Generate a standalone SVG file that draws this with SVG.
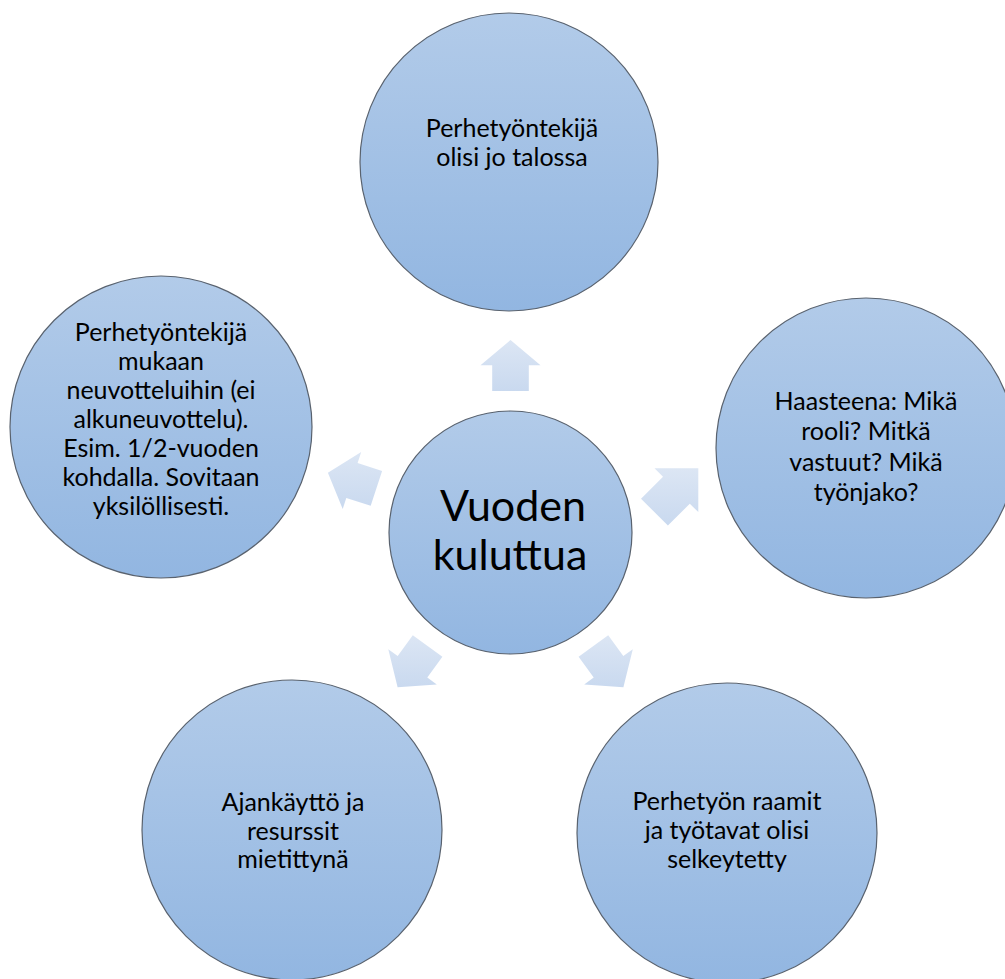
<svg xmlns="http://www.w3.org/2000/svg" width="1005" height="979" viewBox="0 0 1005 979">
<defs>
<linearGradient id="gCircle" x1="0" y1="0" x2="0" y2="1">
<stop offset="0" stop-color="#b2cbe9"/>
<stop offset="1" stop-color="#92b6e1"/>
</linearGradient>
<linearGradient id="gArrow" x1="0" y1="0" x2="0" y2="1">
<stop offset="0" stop-color="#dce6f4"/>
<stop offset="1" stop-color="#c9d9ef"/>
</linearGradient>
<style>
.node circle{fill:url(#gCircle);stroke:#59626e;stroke-width:1.2}
.arrow{fill:url(#gArrow);stroke:none}
.t{font-family:Lato,"Open Sans","DejaVu Sans",sans-serif;font-size:25px;fill:#000;text-anchor:middle}
.tc{font-family:Lato,"Open Sans","DejaVu Sans",sans-serif;font-size:43px;fill:#000;text-anchor:middle}
</style>
</defs>
<rect width="1005" height="979" fill="#ffffff"/>
<g id="connectors">
<polygon class="arrow" points="510.5,340 540.5,365.3 528.8,365.3 528.8,391 492.2,391 492.2,365.3 480.5,365.3"/>
<polygon class="arrow" points="698.3,468.3 698.3,512.1 689.8,503.7 667.9,525.6 641.0,498.7 663.0,476.8 654.5,468.3"/>
<polygon class="arrow" points="327.9,472.7 361.2,452.0 357.6,463.1 382.1,471.0 370.7,505.8 346.3,497.9 342.7,509.0"/>
<polygon class="arrow" points="397.6,687.3 388.3,649.2 397.7,656.1 412.8,635.3 442.4,656.8 427.3,677.6 436.8,684.5"/>
<polygon class="arrow" points="623.4,687.3 584.2,684.5 593.7,677.6 578.6,656.8 608.2,635.3 623.3,656.1 632.8,649.2"/>
</g>
<g id="node-center" class="node">
<circle cx="510.5" cy="532.5" r="121.5"/>
<text class="tc" x="513" y="521">Vuoden</text>
<text class="tc" x="510" y="570">kuluttua</text>
</g>
<g id="node-top" class="node">
<circle cx="509" cy="162" r="149"/>
<text class="t" x="512" y="137">Perhetyöntekijä</text>
<text class="t" x="512" y="166">olisi jo talossa</text>
</g>
<g id="node-right" class="node">
<circle cx="866" cy="448" r="150"/>
<text class="t" x="866" y="410">Haasteena: Mikä</text>
<text class="t" x="866" y="440">rooli? Mitkä</text>
<text class="t" x="866" y="471">vastuut? Mikä</text>
<text class="t" x="866" y="501">työnjako?</text>
</g>
<g id="node-left" class="node">
<circle cx="161" cy="427" r="151"/>
<text class="t" x="161" y="341">Perhetyöntekijä</text>
<text class="t" x="161" y="370">mukaan</text>
<text class="t" x="161" y="399">neuvotteluihin (ei</text>
<text class="t" x="161" y="428">alkuneuvottelu).</text>
<text class="t" x="161" y="457">Esim. 1/2-vuoden</text>
<text class="t" x="161" y="486">kohdalla. Sovitaan</text>
<text class="t" x="161" y="515">yksilöllisesti.</text>
</g>
<g id="node-bottom-left" class="node">
<circle cx="292" cy="830" r="150"/>
<text class="t" x="293" y="811">Ajankäyttö ja</text>
<text class="t" x="293" y="840">resurssit</text>
<text class="t" x="293" y="868">mietittynä</text>
</g>
<g id="node-bottom-right" class="node">
<circle cx="727" cy="833" r="150"/>
<text class="t" x="727" y="810">Perhetyön raamit</text>
<text class="t" x="727" y="839">ja työtavat olisi</text>
<text class="t" x="727" y="868">selkeytetty</text>
</g>
</svg>
